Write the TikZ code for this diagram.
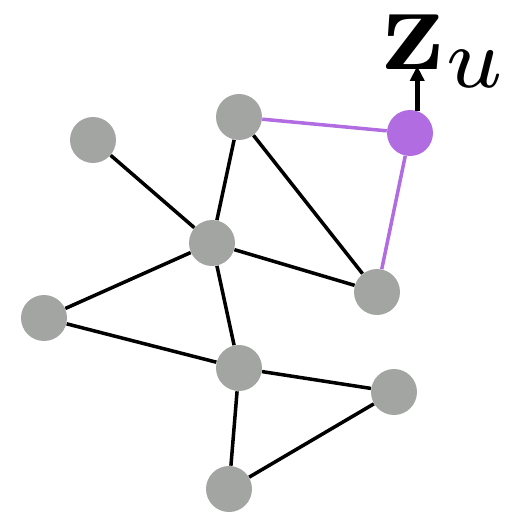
\documentclass[tikz,border=0pt]{standalone}
\usepackage{amsmath}
\usetikzlibrary{arrows.meta,backgrounds}
\definecolor{nodegray}{HTML}{A2A5A2}
\definecolor{focuspurple}{HTML}{B06CE0}
\tikzset{vertex/.style={circle,fill=nodegray,minimum size=.92cm,inner sep=0pt},
  focus/.style={circle,fill=focuspurple,minimum size=.92cm,inner sep=0pt},
  edge/.style={draw=black,line width=2pt},
  focusedge/.style={draw=focuspurple,line width=2pt},
  embarrow/.style={-{Triangle[length=3mm,width=2.8mm]},draw=black,line width=2.8pt}}

\begin{document}
\begin{tikzpicture}[x=.02cm,y=-.02cm]
\path[use as bounding box] (0,0) rectangle (514,514);
\node[vertex] (a) at (93,140) {};
\node[vertex] (b) at (239,117) {};
\node[focus] (u) at (410,133) {};
\node[vertex] (c) at (212,243) {};
\node[vertex] (d) at (377,292) {};
\node[vertex] (e) at (44,318) {};
\node[vertex] (f) at (239,368) {};
\node[vertex] (g) at (394,392) {};
\node[vertex] (h) at (229,489) {};
\begin{pgfonlayer}{background}
\foreach \s/\t in {a/c,b/c,b/d,c/d,c/e,c/f,e/f,f/g,f/h,h/g}
  \draw[edge] (\s) -- (\t);
\draw[focusedge] (b) -- (u);
\draw[focusedge] (u) -- (d);
\end{pgfonlayer}
\node[scale=7,inner sep=0pt] (zu) at (446,51) {$\mathbf{z}_u$};
\coordinate (tip) at (418,66);
\draw[embarrow] (u.72) -- (u.72 |- tip);
\end{tikzpicture}
\end{document}
